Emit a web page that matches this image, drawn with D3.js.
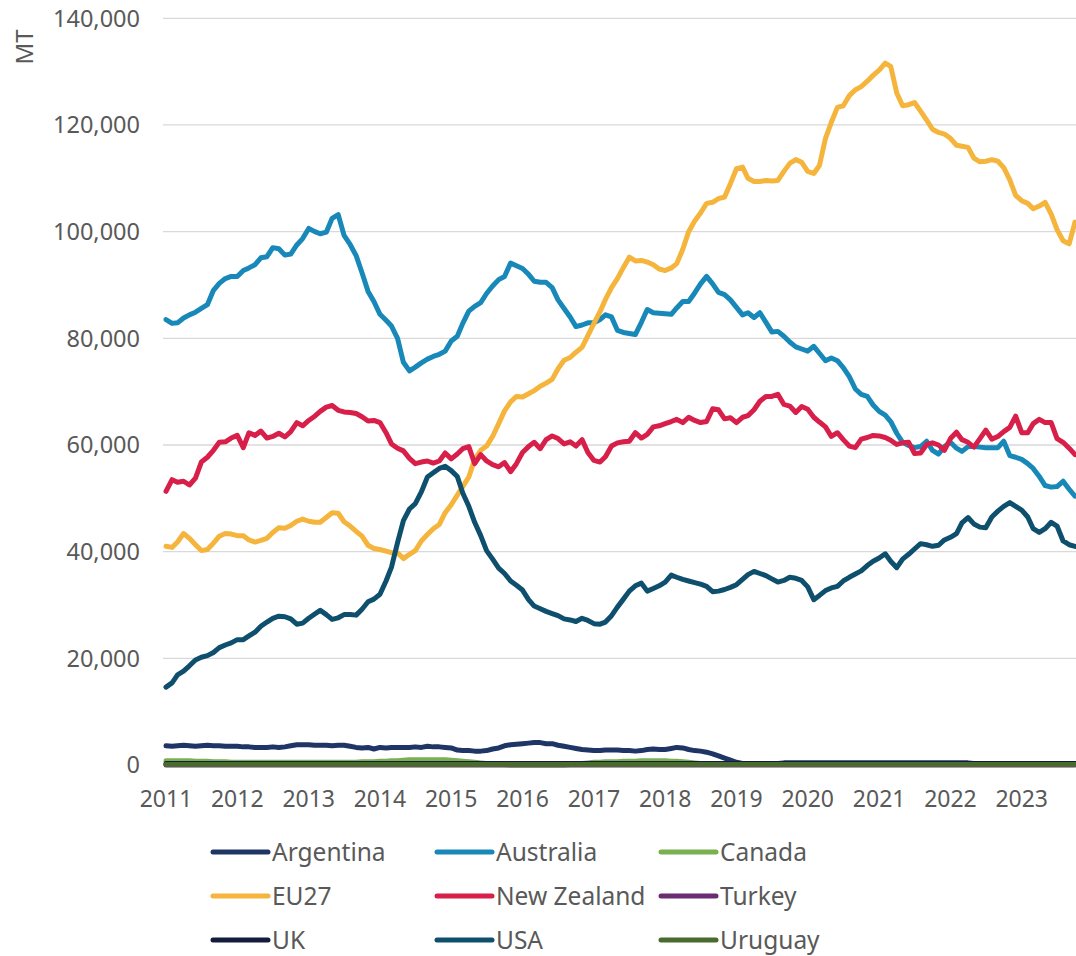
<!DOCTYPE html>
<html>
<head>
<meta charset="utf-8">
<script src="https://cdn.jsdelivr.net/npm/d3@7"></script>
<style>
  body { margin: 0; background: #fff; }
  text { font-family: "Noto Sans", "Open Sans", sans-serif; fill: #595959; }
</style>
</head>
<body>
<div id="chart"></div>
<script>
var width = 1076, height = 956;

// monthly values, thousand MT, Jan 2011 .. Oct 2023
var argentina = [
  3.6,3.5,3.6,3.7,3.6,3.5,3.6,3.7,3.6,3.6,3.5,3.5,
  3.5,3.4,3.4,3.3,3.3,3.3,3.4,3.3,3.4,3.6,3.8,3.8,
  3.8,3.7,3.7,3.7,3.6,3.7,3.7,3.5,3.3,3.2,3.3,3.0,
  3.3,3.2,3.3,3.3,3.3,3.3,3.4,3.3,3.5,3.4,3.4,3.3,
  3.2,2.8,2.7,2.7,2.6,2.6,2.7,3.0,3.2,3.6,3.8,3.9,
  4.0,4.1,4.2,4.2,4.0,4.0,3.7,3.5,3.3,3.1,2.9,2.8,
  2.7,2.7,2.8,2.8,2.8,2.7,2.7,2.6,2.7,2.9,3.0,2.9,
  2.9,3.1,3.3,3.2,2.9,2.7,2.6,2.4,2.1,1.7,1.3,0.9,
  0.5,0.3,0.2,0.2,0.2,0.3,0.3,0.3,0.4,0.4,0.4,0.4,
  0.4,0.4,0.4,0.4,0.4,0.4,0.4,0.4,0.4,0.4,0.4,0.4,
  0.4,0.4,0.4,0.4,0.4,0.4,0.4,0.4,0.4,0.4,0.4,0.4,
  0.4,0.4,0.4,0.4,0.3,0.3,0.3,0.3,0.3,0.3,0.3,0.3,
  0.3,0.3,0.3,0.3,0.3,0.3,0.3,0.3,0.3,0.3
];
var australia = [
  83.5,82.8,82.9,83.8,84.4,84.9,85.6,86.3,89.0,90.3,91.2,91.6,
  91.6,92.7,93.2,93.8,95.1,95.3,97.0,96.8,95.6,95.8,97.5,98.7,
  100.6,100.0,99.6,99.9,102.5,103.2,99.3,97.6,95.5,92.3,88.8,86.9,
  84.5,83.4,82.3,80.0,75.5,73.9,74.6,75.4,76.1,76.6,77.0,77.6,
  79.5,80.4,82.8,85.1,86.0,86.7,88.4,89.8,91.0,91.6,94.1,93.6,
  93.1,92.0,90.7,90.5,90.5,89.5,87.2,85.6,84.0,82.2,82.5,82.9,
  82.9,83.5,84.4,84.0,81.5,81.1,80.9,80.7,83.0,85.4,84.8,84.7,
  84.6,84.5,85.7,86.9,86.9,88.5,90.2,91.6,90.2,88.6,88.2,87.2,
  85.8,84.4,84.8,83.9,84.8,83.0,81.2,81.3,80.4,79.3,78.4,78.0,
  77.6,78.5,77.2,75.8,76.3,75.8,74.5,72.8,70.5,69.5,69.1,67.5,
  66.3,65.6,64.4,62.2,60.5,59.9,59.5,59.7,60.7,59.0,58.3,59.7,
  60.5,59.4,58.8,59.7,59.7,59.6,59.5,59.5,59.5,60.7,58.0,57.7,
  57.3,56.5,55.6,54.1,52.4,52.1,52.2,53.2,51.7,50.4
];
var canada = [
  0.8,0.8,0.8,0.8,0.8,0.7,0.7,0.7,0.6,0.6,0.6,0.5,
  0.5,0.5,0.5,0.5,0.5,0.5,0.5,0.5,0.5,0.5,0.5,0.5,
  0.5,0.5,0.5,0.5,0.5,0.5,0.5,0.5,0.5,0.6,0.6,0.6,
  0.7,0.7,0.8,0.8,0.9,1.0,1.0,1.0,1.0,1.0,1.0,1.0,
  0.9,0.8,0.7,0.6,0.5,0.4,0.3,0.2,0.1,0.1,0.0,0.0,
  0.0,0.0,0.0,0.0,0.0,0.0,0.0,0.0,0.1,0.2,0.3,0.4,
  0.5,0.5,0.6,0.6,0.6,0.7,0.7,0.7,0.8,0.8,0.8,0.8,
  0.8,0.7,0.7,0.6,0.5,0.4,0.3,0.2,0.1,0.1,0.1,0.1,
  0.2,0.2,0.2,0.2,0.2,0.2,0.2,0.2,0.2,0.2,0.2,0.2,
  0.2,0.2,0.2,0.2,0.2,0.2,0.2,0.2,0.2,0.2,0.2,0.2,
  0.2,0.2,0.2,0.2,0.2,0.2,0.2,0.2,0.2,0.2,0.2,0.2,
  0.2,0.2,0.2,0.2,0.2,0.2,0.2,0.2,0.2,0.2,0.2,0.2,
  0.2,0.2,0.2,0.2,0.2,0.2,0.2,0.2,0.2,0.2
];
var eu27 = [
  41.0,40.8,41.8,43.4,42.5,41.3,40.2,40.4,41.6,42.9,43.4,43.3,
  43.0,43.0,42.2,41.8,42.1,42.5,43.6,44.5,44.4,44.9,45.7,46.1,
  45.7,45.5,45.5,46.4,47.3,47.2,45.6,44.8,43.8,42.9,41.2,40.6,
  40.4,40.1,39.8,39.8,38.7,39.5,40.2,42.0,43.2,44.3,45.1,47.3,
  48.8,50.6,52.2,54.0,57.3,59.0,59.8,61.6,64.0,66.4,68.1,69.1,
  69.0,69.6,70.2,71.0,71.6,72.3,74.3,75.9,76.4,77.4,78.3,80.5,
  82.8,85.0,87.3,89.5,91.2,93.3,95.2,94.5,94.6,94.3,93.8,93.0,
  92.7,93.2,94.0,96.7,100.0,102.0,103.5,105.3,105.5,106.2,106.5,109.0,
  111.8,112.1,110.0,109.4,109.4,109.6,109.5,109.6,111.3,112.8,113.5,113.0,
  111.3,110.9,112.4,117.5,120.5,123.3,123.6,125.5,126.6,127.2,128.2,129.3,
  130.3,131.6,131.0,126.0,123.6,123.8,124.2,122.6,120.9,119.2,118.6,118.3,
  117.5,116.2,116.0,115.8,113.8,113.1,113.2,113.5,113.2,112.0,109.7,106.8,
  105.8,105.3,104.3,104.8,105.5,103.3,100.4,98.3,97.7,101.8
];
var newZealand = [
  51.3,53.5,53.0,53.2,52.5,53.8,56.8,57.7,59.0,60.5,60.6,61.3,
  61.8,59.5,62.3,61.8,62.6,61.3,61.6,62.2,61.5,62.5,64.2,63.6,
  64.6,65.4,66.3,67.1,67.4,66.5,66.2,66.1,65.9,65.3,64.5,64.6,
  64.2,62.3,60.2,59.4,58.9,57.5,56.5,56.8,57.0,56.6,57.0,58.5,
  57.4,58.3,59.3,59.7,56.5,58.2,57.0,56.3,55.9,56.7,55.0,56.5,
  58.6,59.7,60.5,59.3,61.0,61.7,61.2,60.2,60.6,59.8,61.0,58.6,
  57.1,56.8,57.8,59.8,60.4,60.6,60.7,62.3,61.3,62.0,63.4,63.6,
  64.0,64.4,64.8,64.2,65.2,64.6,64.2,64.4,66.8,66.6,64.9,65.1,
  64.2,65.2,65.5,66.6,68.2,69.1,69.1,69.5,67.6,67.3,66.1,67.2,
  66.7,65.2,64.3,63.4,61.6,62.3,61.0,59.8,59.5,61.1,61.4,61.8,
  61.7,61.4,60.9,60.1,60.4,60.5,58.4,58.5,60.1,60.4,60.0,59.0,
  61.2,62.4,61.0,60.5,59.6,61.2,62.8,61.1,61.6,62.5,63.3,65.4,
  62.3,62.3,64.0,64.8,64.2,64.2,61.2,60.5,59.4,58.2
];
var turkey = [
  0,0,0,0,0,0,0,0,0,0,0,0, 0,0,0,0,0,0,0,0,0,0,0,0,
  0,0,0,0,0,0,0,0,0,0,0,0, 0,0,0,0,0,0,0,0,0,0,0,0,
  0,0,0,0,0,0,0,0,0,0,0,0, 0,0,0,0,0,0,0,0,0,0,0,0,
  0,0,0,0,0,0,0,0,0,0,0,0, 0,0,0,0,0,0,0,0,0,0,0,0,
  0,0,0,0,0,0,0,0,0,0,0,0, 0,0,0,0,0,0,0,0,0,0,0,0,
  0,0,0,0,0,0,0,0,0,0,0,0, 0,0,0,0,0,0,0,0,0,0,0,0,
  0,0,0,0,0,0,0,0,0,0
];
var uk = [
  0.3,0.3,0.3,0.3,0.3,0.3,0.3,0.3,0.3,0.3,0.3,0.3, 0.3,0.3,0.3,0.3,0.3,0.3,0.3,0.3,0.3,0.3,0.3,0.3,
  0.3,0.3,0.3,0.3,0.3,0.3,0.3,0.3,0.3,0.3,0.3,0.3, 0.3,0.3,0.3,0.3,0.3,0.3,0.3,0.3,0.3,0.3,0.3,0.3,
  0.3,0.3,0.3,0.3,0.3,0.3,0.3,0.3,0.3,0.3,0.3,0.3, 0.3,0.3,0.3,0.3,0.3,0.3,0.3,0.3,0.3,0.3,0.3,0.3,
  0.3,0.3,0.3,0.3,0.3,0.3,0.3,0.3,0.3,0.3,0.3,0.3, 0.3,0.3,0.3,0.3,0.3,0.3,0.3,0.3,0.3,0.3,0.3,0.3,
  0.3,0.3,0.3,0.3,0.3,0.3,0.3,0.3,0.3,0.3,0.3,0.3, 0.3,0.3,0.3,0.3,0.3,0.3,0.3,0.3,0.3,0.3,0.3,0.3,
  0.3,0.3,0.3,0.3,0.3,0.3,0.3,0.3,0.3,0.3,0.3,0.3, 0.3,0.3,0.3,0.3,0.3,0.3,0.3,0.3,0.3,0.3,0.3,0.3,
  0.3,0.3,0.3,0.3,0.3,0.3,0.3,0.3,0.3,0.3
];
var usa = [
  14.6,15.4,16.9,17.6,18.6,19.7,20.2,20.5,21.1,22.0,22.5,22.9,
  23.5,23.5,24.2,24.9,26.0,26.8,27.5,27.9,27.8,27.4,26.4,26.6,
  27.5,28.3,29.0,28.2,27.3,27.6,28.2,28.2,28.1,29.2,30.6,31.1,
  32.0,34.5,37.1,41.7,45.8,48.0,49.0,51.2,54.0,54.8,55.6,56.0,
  55.2,54.1,51.0,48.5,45.5,43.0,40.2,38.6,36.9,35.9,34.5,33.7,
  32.8,31.0,29.8,29.3,28.8,28.4,28.0,27.4,27.2,26.9,27.5,27.1,
  26.5,26.4,26.8,28.0,29.6,31.1,32.6,33.6,34.1,32.6,33.1,33.6,
  34.3,35.6,35.2,34.8,34.5,34.2,33.9,33.5,32.5,32.6,32.9,33.3,
  33.8,34.8,35.7,36.3,35.9,35.5,34.9,34.3,34.6,35.2,35.0,34.6,
  33.4,31.0,31.8,32.7,33.2,33.5,34.5,35.2,35.8,36.4,37.4,38.2,
  38.8,39.6,38.2,37.0,38.6,39.5,40.5,41.5,41.3,41.0,41.2,42.2,
  42.7,43.4,45.4,46.4,45.2,44.6,44.5,46.5,47.6,48.5,49.2,48.5,
  47.8,46.5,44.3,43.6,44.3,45.5,44.8,42.0,41.3,41.0
];
var uruguay = [
  0.1,0.1,0.1,0.1,0.1,0.1,0.1,0.1,0.1,0.1,0.1,0.1, 0.1,0.1,0.1,0.1,0.1,0.1,0.1,0.1,0.1,0.1,0.1,0.1,
  0.1,0.1,0.1,0.1,0.1,0.1,0.1,0.1,0.1,0.1,0.1,0.1, 0.1,0.1,0.1,0.1,0.1,0.1,0.1,0.1,0.1,0.1,0.1,0.1,
  0.1,0.1,0.1,0.1,0.1,0.1,0.1,0.1,0.1,0.1,0.1,0.1, 0.1,0.1,0.1,0.1,0.1,0.1,0.1,0.1,0.1,0.1,0.1,0.1,
  0.1,0.1,0.1,0.1,0.1,0.1,0.1,0.1,0.1,0.1,0.1,0.1, 0.1,0.1,0.1,0.1,0.1,0.1,0.1,0.1,0.1,0.1,0.1,0.1,
  0.1,0.1,0.1,0.1,0.1,0.1,0.1,0.1,0.1,0.1,0.1,0.1, 0.1,0.1,0.1,0.1,0.1,0.1,0.1,0.1,0.1,0.1,0.1,0.1,
  0.1,0.1,0.1,0.1,0.1,0.1,0.1,0.1,0.1,0.1,0.1,0.1, 0.1,0.1,0.1,0.1,0.1,0.1,0.1,0.1,0.1,0.1,0.1,0.1,
  0.1,0.1,0.1,0.1,0.1,0.1,0.1,0.1,0.1,0.1
];

var names = ["Argentina", "Australia", "Canada", "EU27", "New Zealand", "Turkey", "UK", "USA", "Uruguay"];
var colors = ["#1f3566", "#1788b8", "#7ab050", "#f5b43c", "#d71f4a", "#6b2d72", "#141c3c", "#0d4f6c", "#4a6b2e"];
var values = [argentina, australia, canada, eu27, newZealand, turkey, uk, usa, uruguay];
var yearLabels = ["2011","2012","2013","2014","2015","2016","2017","2018","2019","2020","2021","2022","2023"];
var yTicks = [0, 20000, 40000, 60000, 80000, 100000, 120000, 140000];

var months = d3.timeMonth.range(new Date(2011, 0, 1), new Date(2023, 10, 1));

var x = d3.scaleTime()
    .domain([months[0], months[months.length - 1]])
    .range([166, 1075]);
var y = d3.scaleLinear().domain([0, 140000]).range([765, 18.3]);

var svg = d3.select("#chart").append("svg")
    .attr("width", width)
    .attr("height", height);

// grid
svg.append("g").selectAll("line")
    .data(yTicks)
    .enter().append("line")
    .attr("x1", 163).attr("x2", width)
    .attr("y1", d => y(d)).attr("y2", d => y(d))
    .attr("stroke", "#d9d9d9")
    .attr("stroke-width", 1.3);

svg.append("g").selectAll("text")
    .data(yTicks)
    .enter().append("text")
    .attr("x", 140)
    .attr("y", d => y(d))
    .attr("dy", "0.36em")
    .attr("text-anchor", "end")
    .style("font-size", "23.5px")
    .text(d3.format(","));

svg.append("g").selectAll("text")
    .data(yearLabels)
    .enter().append("text")
    .attr("x", d => x(new Date(+d, 0, 1)))
    .attr("y", 807)
    .attr("text-anchor", "middle")
    .style("font-size", "23px")
    .text(d => d);

svg.append("text")
    .attr("transform", "translate(33,47) rotate(-90)")
    .attr("text-anchor", "middle")
    .style("font-size", "24px")
    .text("MT");

var line = d3.line()
    .x((d, i) => x(months[i]))
    .y(d => y(d * 1000));

svg.append("g").selectAll("path")
    .data(values)
    .enter().append("path")
    .attr("d", line)
    .attr("fill", "none")
    .attr("stroke", (d, i) => colors[i])
    .attr("stroke-width", 5)
    .attr("stroke-linejoin", "round")
    .attr("stroke-linecap", "round");

// legend, 3 columns
var legend = svg.append("g").selectAll("g")
    .data(names)
    .enter().append("g")
    .attr("transform", (d, i) => "translate(" + (213 + (i % 3) * 224) + "," + (852 + Math.floor(i / 3) * 44) + ")");

legend.append("line")
    .attr("x1", 0).attr("x2", 55)
    .attr("stroke", (d, i) => colors[i])
    .attr("stroke-width", 5)
    .attr("stroke-linecap", "round");

legend.append("text")
    .attr("x", 59)
    .attr("dy", "0.36em")
    .style("font-size", "24.5px")
    .text(d => d);
</script>
</body>
</html>
